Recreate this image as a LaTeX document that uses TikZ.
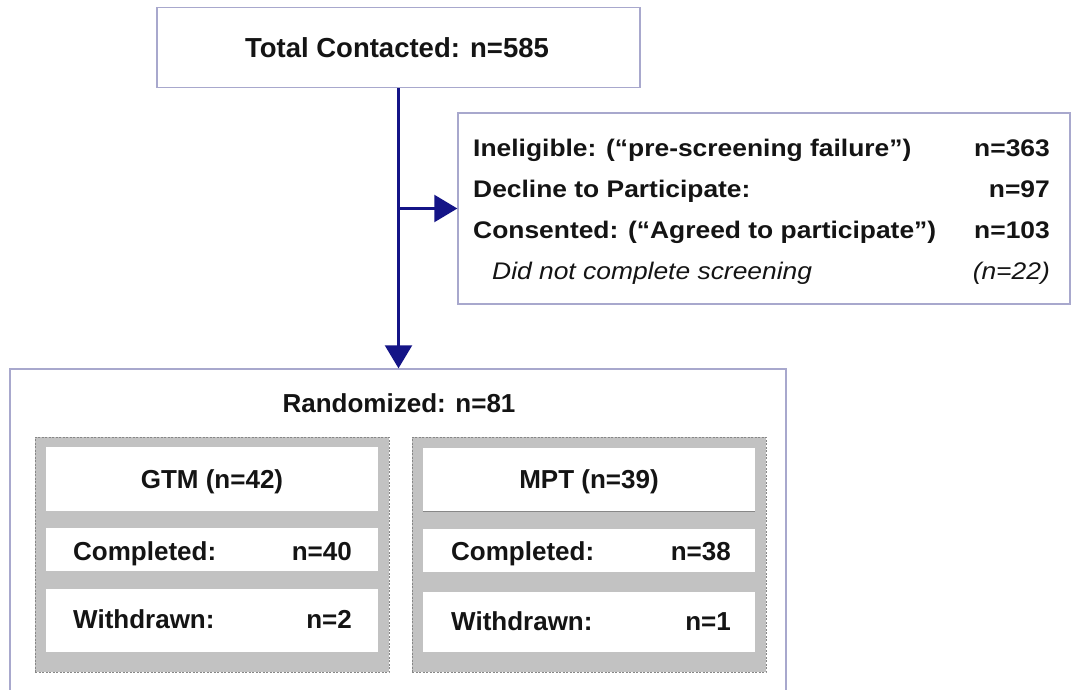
\documentclass[tikz,border=0pt]{standalone}
\usepackage{fontspec}
\setmainfont{Liberation Sans}
\newfontfamily\rbfont[FakeStretch=1.1]{Liberation Sans}
\usetikzlibrary{arrows.meta}
\definecolor{navy}{RGB}{20,20,135}
\definecolor{boxline}{RGB}{168,168,205}
\definecolor{grayfill}{RGB}{194,194,194}
\definecolor{dashgray}{RGB}{135,135,135}
\definecolor{txt}{RGB}{20,20,20}
\tikzset{
  outerbox/.style={draw=boxline, line width=1.3pt, fill=white, inner sep=0pt},
  graybox/.style={draw=dashgray, dash pattern=on 2pt off 1.5pt, line width=0.8pt, fill=grayfill, inner sep=0pt, minimum width=354pt, minimum height=235pt},
  whitebox/.style={fill=white, inner sep=0pt, minimum width=332pt},
  conn/.style={draw=navy, line width=2.2pt, -{Triangle[width=27pt,length=23pt]}},
  big/.style={font=\fontsize{26}{30}\selectfont\bfseries, text=txt, inner sep=0pt},
  ttlfont/.style={font=\fontsize{27.5}{32}\selectfont\bfseries, text=txt, inner sep=0pt},
  rb/.style={font=\rbfont\fontsize{24}{28}\selectfont\bfseries, text=txt, inner sep=0pt},
  rbit/.style={font=\rbfont\fontsize{24}{28}\selectfont\itshape, text=txt, inner sep=0pt}
}
\begin{document}
\begin{tikzpicture}[x=1pt,y=-1pt]
\useasboundingbox (0,0) rectangle (1074,689);
\fill[white] (0,0) rectangle (1074,689);

% top box
\node[outerbox, minimum width=483pt, minimum height=80pt] (top) at (398.5,47.5) {};
\node[ttlfont, anchor=base] (ttl) at (397,57) {Total Contacted: n=585};

% right box
\node[outerbox, minimum width=612pt, minimum height=191pt] (rbox) at (764,208.5) {};
\node[rb, anchor=base west] (l1) at (473,156) {Ineligible: (“pre-screening failure”)};
\node[rb, anchor=base east] (n1) at (1050,156) {n=363};
\node[rb, anchor=base west] (l2) at (473,197) {Decline to Participate:};
\node[rb, anchor=base east] (n2) at (1050,197) {n=97};
\node[rb, anchor=base west] (l3) at (473,238) {Consented: (“Agreed to participate”)};
\node[rb, anchor=base east] (n3) at (1050,238) {n=103};
\node[rbit, anchor=base west] (l4) at (492,279) {Did not complete screening};
\node[rbit, anchor=base east] (n4) at (1050,279) {(n=22)};

% bottom box
\node[outerbox, minimum width=776pt, minimum height=330pt] (rand) at (398,534) {};
\node[big, anchor=base] (randt) at (399,412) {Randomized: n=81};

% GTM
\node[graybox] (gtm) at (212,554.5) {};
\node[whitebox, minimum height=64pt] (gtmh) at (212,479) {};
\node[whitebox, minimum height=43pt] (gtmc) at (212,549.5) {};
\node[whitebox, minimum height=63pt] (gtmw) at (212,620.5) {};
\node[big, anchor=base] (gtmht) at (212,488) {GTM (n=42)};
\node[big, anchor=base west] (gtmcl) at (73,560) {Completed:};
\node[big, anchor=base east] (gtmcn) at (352,560) {n=40};
\node[big, anchor=base west] (gtmwl) at (73,628) {Withdrawn:};
\node[big, anchor=base east] (gtmwn) at (352,628) {n=2};

% MPT
\node[graybox] (mpt) at (589,554.5) {};
\node[whitebox, minimum height=64pt] (mpth) at (589,479.5) {};
\draw[draw=dashgray, line width=1pt] (mpth.south west) -- (mpth.south east);
\node[whitebox, minimum height=43pt] (mptc) at (589,550.5) {};
\node[whitebox, minimum height=60pt] (mptw) at (589,622) {};
\node[big, anchor=base] (mptht) at (589,488) {MPT (n=39)};
\node[big, anchor=base west] (mptcl) at (451,560) {Completed:};
\node[big, anchor=base east] (mptcn) at (731,560) {n=38};
\node[big, anchor=base west] (mptwl) at (451,630) {Withdrawn:};
\node[big, anchor=base east] (mptwn) at (731,630) {n=1};

% connectors
\draw[conn] (top.south) -- (top.south |- rand.north);
\draw[conn] (top.south |- rbox.west) -- (rbox.west);
\end{tikzpicture}
\end{document}
